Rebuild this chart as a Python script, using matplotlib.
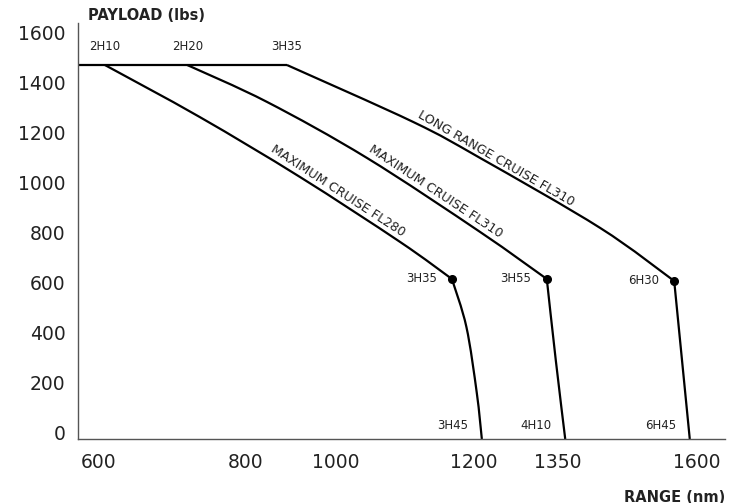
import numpy as np
import matplotlib
matplotlib.use("Agg")
import matplotlib.pyplot as plt
from matplotlib.transforms import ScaledTranslation
from matplotlib.path import Path
from matplotlib.patches import PathPatch

# ---------------- data ----------------
x_tick_values = [600, 800, 1000, 1200, 1350, 1600]
y_tick_values = [0, 200, 400, 600, 800, 1000, 1200, 1400, 1600]

plateau_payload = 1496

fl280_range = [608, 737, 920, 1093, 1168, 1189, 1205, 1214]
fl280_payload = [1496, 1288, 1048, 788, 640, 448, 184, 0]

fl310_range = [720, 847, 1045, 1211, 1330, 1346, 1363]
fl310_payload = [1496, 1348, 1124, 828, 640, 316, 0]

lrc_range = [891, 1112, 1211, 1426, 1559, 1573, 1587]
lrc_payload = [1496, 1268, 1124, 844, 632, 316, 0]

knee_index = [4, 4, 4]

curve_names = ["MAXIMUM CRUISE FL280", "MAXIMUM CRUISE FL310", "LONG RANGE CRUISE FL310"]
start_times = ["2H10", "2H20", "3H35"]
knee_times = ["3H35", "3H55", "6H30"]
end_times = ["3H45", "4H10", "6H45"]

# ---------------- non-uniform range axis ----------------
anchor_vals = np.array(x_tick_values, dtype=float)
anchor_pos = np.array([99, 246, 336, 474, 558, 697], dtype=float)


def _extrap(x, xp, fp):
    x = np.asarray(x, dtype=float)
    y = np.interp(x, xp, fp)
    s0 = (fp[1] - fp[0]) / (xp[1] - xp[0])
    s1 = (fp[-1] - fp[-2]) / (xp[-1] - xp[-2])
    y = np.where(x < xp[0], fp[0] + (x - xp[0]) * s0, y)
    y = np.where(x > xp[-1], fp[-1] + (x - xp[-1]) * s1, y)
    return y


def fwd(v):
    return _extrap(v, anchor_vals, anchor_pos)


def inv(p):
    return _extrap(p, anchor_pos, anchor_vals)


YS = 0.25  # screen units per lb (smoothing done in screen-like space)


def smooth_path(xs, ys):
    """Catmull-Rom through the read points, drawn as cubic Bezier segments."""
    P = np.column_stack([fwd(xs), np.asarray(ys, float) * YS])
    n = len(P)
    verts = [P[0]]
    codes = [Path.MOVETO]
    for i in range(n - 1):
        p0 = P[i - 1] if i > 0 else P[i]
        p1 = P[i]
        p2 = P[i + 1]
        p3 = P[i + 2] if i + 2 < n else P[i + 1]
        c1 = p1 + (p2 - p0) / 6.0
        c2 = p2 - (p3 - p1) / 6.0
        verts += [c1, c2, p2]
        codes += [Path.CURVE4] * 3
    V = np.array(verts)
    V[:, 0] = inv(V[:, 0])
    V[:, 1] = V[:, 1] / YS
    return Path(V, codes)


# ---------------- figure ----------------
fig = plt.figure(figsize=(7.38, 5.03), dpi=100)
ax = fig.add_axes([78 / 738, 1 - 439 / 503, (725 - 78) / 738, (439 - 23) / 503])
ax.set_xscale("function", functions=(fwd, inv))
x_left = float(inv(78))
x_right = float(inv(725))
ax.set_xlim(x_left, x_right)
ax.set_ylim(0, 1664)

txt_col = "#222222"
lw = 1.6

# plateau
ax.plot([x_left, lrc_range[0]], [plateau_payload, plateau_payload], color="black", lw=lw,
        solid_capstyle="butt")

series = [(fl280_range, fl280_payload), (fl310_range, fl310_payload), (lrc_range, lrc_payload)]
for i, (xs, ys) in enumerate(series):
    k = knee_index[i]
    for seg in (slice(0, k + 1), slice(k, None)):
        path = smooth_path(xs[seg], ys[seg])
        ax.add_patch(PathPatch(path, fill=False, edgecolor="black", lw=lw,
                               joinstyle="round", capstyle="butt"))
    ax.plot([xs[k]], [ys[k]], "o", color="black", ms=5.5)
    ax.annotate(start_times[i], (xs[0], ys[0]), xytext=(0, 13), textcoords="offset points",
                ha="center", va="center", fontsize=8.5, color=txt_col)
    ax.annotate(knee_times[i], (xs[k], ys[k]), xytext=(-11, 0), textcoords="offset points",
                ha="right", va="center", fontsize=8.5, color=txt_col)
    ax.annotate(end_times[i], (xs[-1], ys[-1]), xytext=(-10, 10), textcoords="offset points",
                ha="right", va="center", fontsize=8.5, color=txt_col)

# curve names along the curves
label_pos = [(1003, 994, -33.0), (1145, 990, -33.5), (1240, 1120, -30.0)]
for name, (lx, ly, rot) in zip(curve_names, label_pos):
    ax.text(lx, ly, name, rotation=rot, rotation_mode="anchor", ha="center", va="center",
            fontsize=9.2, color=txt_col)

# axes styling
for s in ["top", "right"]:
    ax.spines[s].set_visible(False)
for s in ["left", "bottom"]:
    ax.spines[s].set_color("#555555")
    ax.spines[s].set_linewidth(1.0)

ax.set_xticks(x_tick_values)
ax.set_xticklabels([str(v) for v in x_tick_values])
ax.set_yticks(y_tick_values)
ax.set_yticklabels([str(v) for v in y_tick_values])
ax.minorticks_off()
ax.tick_params(axis="both", length=0, labelsize=13.5, labelcolor=txt_col)
ax.tick_params(axis="x", pad=10)
ax.tick_params(axis="y", pad=9)

shift = ScaledTranslation(0, 7 / 100, fig.dpi_scale_trans)
for lab in ax.get_yticklabels():
    lab.set_transform(lab.get_transform() + shift)

fig.text(88 / 738, 1 - 16 / 503, "PAYLOAD (lbs)", ha="left", va="center", fontsize=10.5,
         fontweight="bold", color=txt_col)
fig.text(725 / 738, 1 - 497 / 503, "RANGE (nm)", ha="right", va="center", fontsize=10.5,
         fontweight="bold", color=txt_col)

fig.savefig("out.png", dpi=100)
